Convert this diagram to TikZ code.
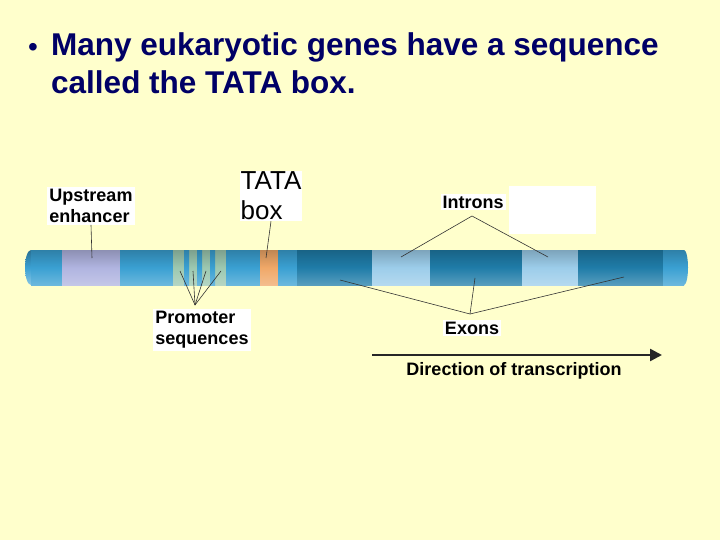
\documentclass[tikz,border=0pt]{standalone}
\usepackage{fontspec}
\setmainfont{Liberation Sans}
\usetikzlibrary{arrows.meta}
\definecolor{bg}{HTML}{FFFFCC}
\definecolor{cblue}{HTML}{3AA0D2}
\definecolor{clav}{HTML}{B0B4E0}
\definecolor{cgreen}{HTML}{9CC8B0}
\definecolor{corange}{HTML}{F0A868}
\definecolor{cdark}{HTML}{1F7CA8}
\definecolor{clight}{HTML}{9CCDEA}
\definecolor{ttl}{HTML}{000066}
\newcommand\gseg[3]{\shade[bottom color=#3!75!white, top color=#3!80!black, middle color=#3] (#1,250) rectangle (#2,285);}
\tikzset{lbl/.style={fill=white, font=\bfseries\fontsize{18}{21}\selectfont, align=left, inner sep=2pt},
 lead/.style={draw=black!80, line width=0.6pt}}
\begin{document}
\begin{tikzpicture}[x=1pt,y=-1pt]
\fill[bg] (0,0) rectangle (720,540);
\useasboundingbox (0,0) rectangle (720,540);
\node[anchor=base west, text=ttl, font=\fontsize{28}{38}\selectfont, inner sep=0] (bul) at (28,57) {\textbullet};
\node[anchor=north west, align=left, text=ttl, font=\bfseries\fontsize{31.5}{38}\selectfont, inner sep=0] (title) at (51,32) {Many eukaryotic genes have a sequence\\called the TATA box.};
% cylinder
\shade[bottom color=cblue!60!white, top color=cblue!70!black, middle color=cblue] (31,267.5) ellipse[x radius=6,y radius=17.5];
\gseg{31}{62}{cblue}
\gseg{62}{120}{clav}
\gseg{120}{173}{cblue}
\gseg{173}{226}{cgreen}
\foreach \x in {184,197,210}{\gseg{\x}{\x+5}{cblue}}
\gseg{226}{260}{cblue}
\gseg{260}{278}{corange}
\gseg{278}{297}{cblue}
\gseg{297}{372}{cdark}
\gseg{372}{430}{clight}
\gseg{430}{522}{cdark}
\gseg{522}{578}{clight}
\gseg{578}{663}{cdark}
\gseg{663}{684}{cblue}
\shade[bottom color=cblue!75!white, top color=cblue!80!black, middle color=cblue] (684,267.5) ellipse[x radius=4,y radius=17.5];
% labels
\node[lbl] (up) at (91,206) {Upstream\\enhancer};
\node[fill=white, align=left, font=\fontsize{26}{30}\selectfont, inner sep=1pt] (tata) at (271,196) {TATA\\box};
\node[lbl] (prom) at (202,330) {Promoter\\sequences};
\node[lbl] (intr) at (473,202) {Introns};
\node[fill=white, minimum width=87pt, minimum height=47pt, inner sep=0] (blank) at (552,210) {};
\node[lbl] (exon) at (472,328) {Exons};
\node[font=\bfseries\fontsize{18}{21}\selectfont, inner sep=1pt] (dir) at (514,371) {Direction of transcription};
% leaders
\coordinate (upT) at (92,258);
\coordinate (tataT) at (266,258);
\draw[lead] (up.south) -- (upT);
\draw[lead] (tata.south) -- (tataT);
\coordinate (pr) at (195,305);
\foreach \x in {180,193,206,221}{\draw[lead] (pr) -- (\x,271);}
\coordinate (ir) at (472,216);
\coordinate (i1) at (401,257);
\coordinate (i2) at (548,257);
\draw[lead] (i1) -- (ir) -- (i2);
\coordinate (ex) at (470,314);
\coordinate (e1) at (340,280);
\coordinate (e2) at (475,278);
\coordinate (e3) at (624,277);
\draw[lead] (e1) -- (ex) -- (e3);
\draw[lead] (e2) -- (ex);
\coordinate (a1) at (372,355);
\coordinate (a2) at (662,355);
\draw[line width=2.5pt, black!85, -{Triangle[length=12pt,width=12pt]}] (a1) -- (a2);
\end{tikzpicture}
\end{document}
